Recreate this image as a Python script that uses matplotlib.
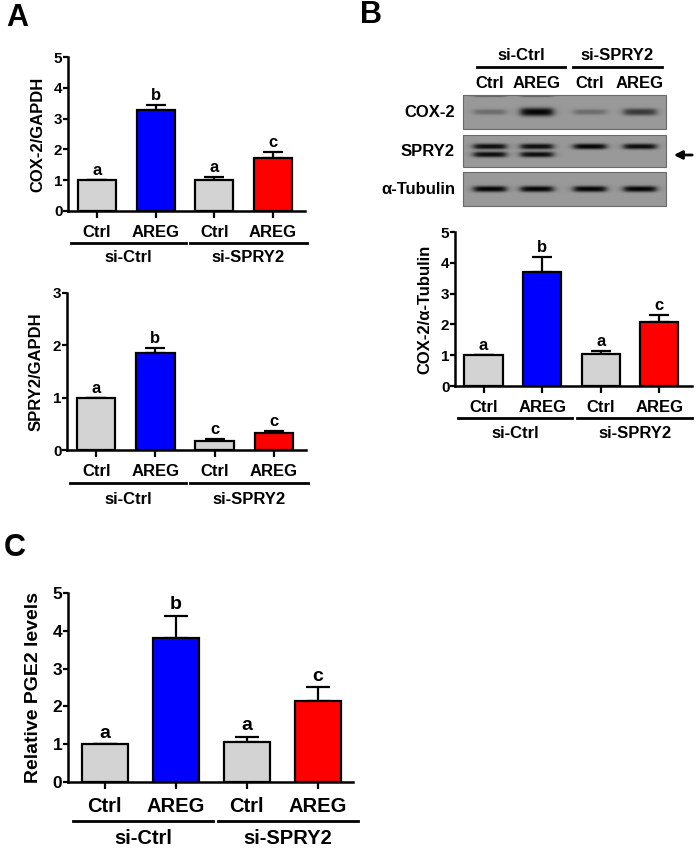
import numpy as np
import matplotlib
matplotlib.use("Agg")
import matplotlib.pyplot as plt

plt.rcParams['font.family'] = ['Liberation Sans', 'DejaVu Sans']
plt.rcParams['font.weight'] = 'bold'
plt.rcParams['axes.linewidth'] = 1.8

# ---- data ----
cats = ["Ctrl", "AREG", "Ctrl", "AREG"]
groups = ["si-Ctrl", "si-SPRY2"]
colors = ["#d3d3d3", "#0000ff", "#d3d3d3", "#ff0000"]

cox2_gapdh = [1.0, 3.27, 1.0, 1.73]
cox2_gapdh_err = [0.0, 0.17, 0.10, 0.18]
cox2_gapdh_sig = ["a", "b", "a", "c"]

spry2_gapdh = [1.0, 1.86, 0.18, 0.32]
spry2_gapdh_err = [0.0, 0.09, 0.03, 0.04]
spry2_gapdh_sig = ["a", "b", "c", "c"]

cox2_tub = [1.0, 3.70, 1.04, 2.09]
cox2_tub_err = [0.0, 0.48, 0.10, 0.22]
cox2_tub_sig = ["a", "b", "a", "c"]

pge2 = [1.0, 3.80, 1.05, 2.13]
pge2_err = [0.0, 0.60, 0.15, 0.38]
pge2_sig = ["a", "b", "a", "c"]

# blot band darkness per lane
cox2_bands = [0.30, 1.0, 0.30, 0.65]
spry2_upper = [0.95, 0.95, 1.0, 0.95]
spry2_lower = [0.95, 0.95, 0.0, 0.0]
tub_bands = [1.0, 1.0, 1.0, 1.0]

W, H = 700, 850
fig = plt.figure(figsize=(W / 100, H / 100), dpi=100)

ov = fig.add_axes([0, 0, 1, 1])
ov.set_xlim(0, W)
ov.set_ylim(H, 0)
ov.axis('off')


def bar_panel(x0, x1, ytop, ybot, vals, errs, sig, ymax, ylabel, xl, fs_tick,
              fs_cat, fs_lab, fs_sig, glines, gline_y, cat_pad, grp_y, ylab_x):
    ax = fig.add_axes([x0 / W, 1 - ybot / H, (x1 - x0) / W, (ybot - ytop) / H])
    hpx = ybot - ytop
    x = np.arange(4)
    ax.bar(x, vals, width=0.65, color=colors, edgecolor='black', linewidth=1.6, zorder=3)
    ax.errorbar(x, vals, yerr=[[0] * 4, errs], fmt='none', ecolor='black',
                elinewidth=1.6, capsize=fs_sig * 0.6, capthick=1.6, zorder=2)
    for i in range(4):
        ax.text(x[i], vals[i] + errs[i] + ymax * 0.012, sig[i], ha='center', va='bottom',
                fontsize=fs_sig, fontweight='bold')
    ax.set_ylim(0, ymax)
    ax.set_xlim(*xl)
    ax.set_yticks(range(0, ymax + 1))
    ax.set_xticks(x)
    ax.set_xticklabels(cats, fontsize=fs_cat, fontweight='bold')
    ax.tick_params(axis='y', labelsize=fs_tick, width=1.6, length=3.5, pad=0.5)
    ax.tick_params(axis='x', width=1.6, length=5, pad=cat_pad)
    for s in ['top', 'right']:
        ax.spines[s].set_visible(False)
    ax.set_ylabel(ylabel, fontsize=fs_lab, fontweight='bold')
    ax.yaxis.set_label_coords(ylab_x, 0.5)
    tr = ax.get_xaxis_transform()
    gy = -(gline_y - ybot) / hpx
    ty = -(grp_y - ybot) / hpx
    for (a, b), g in zip(glines, groups):
        ax.plot([a, b], [gy, gy], color='black', lw=2, transform=tr, clip_on=False)
        ax.text((a + b) / 2, ty, g, transform=tr, ha='center', va='center',
                fontsize=fs_cat, fontweight='bold')
    return ax


# Panel A top
bar_panel(68, 305, 57, 211, cox2_gapdh, cox2_gapdh_err, cox2_gapdh_sig, 5, "COX-2/GAPDH",
          (-0.494, 3.545), 11, 12, 12, 12,
          [(-0.45, 1.52), (1.58, 3.58)], 243, 5, 258, -0.097)
# Panel A bottom
bar_panel(67, 306, 293, 450, spry2_gapdh, spry2_gapdh_err, spry2_gapdh_sig, 3, "SPRY2/GAPDH",
          (-0.494, 3.545), 11, 12, 12, 12,
          [(-0.45, 1.52), (1.58, 3.58)], 483, 5, 500, -0.097)
# Panel B chart
bar_panel(455, 692, 232, 386, cox2_tub, cox2_tub_err, cox2_tub_sig, 5, "COX-2/α-Tubulin",
          (-0.487, 3.56), 11, 12, 12, 12,
          [(-0.44, 1.51), (1.60, 3.56)], 418, 5, 433, -0.097)
# Panel C
bar_panel(68, 353, 593, 782, pge2, pge2_err, pge2_sig, 5, "Relative PGE2 levels",
          (-0.52, 3.5), 12.5, 14.5, 14, 14,
          [(-0.45, 1.525), (1.60, 3.57)], 821, 6, 838, -0.091)

# Panel letters
ov.text(6, 18, "A", fontsize=22, fontweight='bold', va='center')
ov.text(360, 15, "B", fontsize=22, fontweight='bold', va='center')
ov.text(4, 548, "C", fontsize=22, fontweight='bold', va='center')

# ---- Western blot (panel B) ----
bx0, bx1 = 463, 666
lane_x = [490, 537, 590, 640]
rows = [("COX-2", 95, 129), ("SPRY2", 135, 167), ("α-Tubulin", 172, 206)]


def blot_row(y0, y1, bands):
    w = bx1 - bx0
    h = y1 - y0
    xs = np.arange(w)[None, :] + 0.5
    ys = np.arange(h)[:, None] + 0.5
    img = np.full((h, w), 0.60)
    for cx, cy, hw, th, d in bands:
        px = 1.0 / (1.0 + np.exp((np.abs(xs - (cx - bx0)) - hw) / 2.2))
        py = np.exp(-np.abs((ys - cy) / th) ** 2.5)
        img = img - d * 0.58 * px * py
    return np.clip(img, 0, 1)


cox_row = blot_row(95, 129, [(lx, 17, 16, 2.2 + 2.0 * d, d) for lx, d in zip(lane_x, cox2_bands)]
                   + [(lane_x[0], 0.5, 16, 1.5, 0.5), (lane_x[1], 0.5, 16, 1.5, 0.5)])
spry_row = blot_row(135, 167, [(lx, 11.5, 16, 2.8, d) for lx, d in zip(lane_x, spry2_upper)]
                    + [(lx, 19.5, 16, 2.8, d) for lx, d in zip(lane_x, spry2_lower)])
tub_row = blot_row(172, 206, [(lx, 17, 16, 3.0, d) for lx, d in zip(lane_x, tub_bands)])

for (name, y0, y1), img in zip(rows, [cox_row, spry_row, tub_row]):
    ov.imshow(img, cmap='gray', vmin=0, vmax=1, extent=(bx0, bx1, y1, y0),
              aspect='auto', interpolation='bilinear')
    ov.add_patch(plt.Rectangle((bx0, y0), bx1 - bx0, y1 - y0, fill=False,
                               edgecolor='#6a6a6a', lw=0.8))
    ov.text(455, (y0 + y1) / 2, name, ha='right', va='center', fontsize=12, fontweight='bold')
ov.set_xlim(0, W)
ov.set_ylim(H, 0)

ov.text(521, 55, "si-Ctrl", ha='center', va='center', fontsize=12, fontweight='bold')
ov.text(617, 55, "si-SPRY2", ha='center', va='center', fontsize=12, fontweight='bold')
ov.plot([477, 565], [67, 67], color='black', lw=2)
ov.plot([573, 662], [67, 67], color='black', lw=2)
for lx, c in zip(lane_x, cats):
    ov.text(lx, 83, c, ha='center', va='center', fontsize=12, fontweight='bold')
ov.annotate("", xy=(671, 155), xytext=(695, 155),
            arrowprops=dict(arrowstyle='-|>', color='black', lw=2, mutation_scale=12))

fig.savefig("out.png", dpi=100)
